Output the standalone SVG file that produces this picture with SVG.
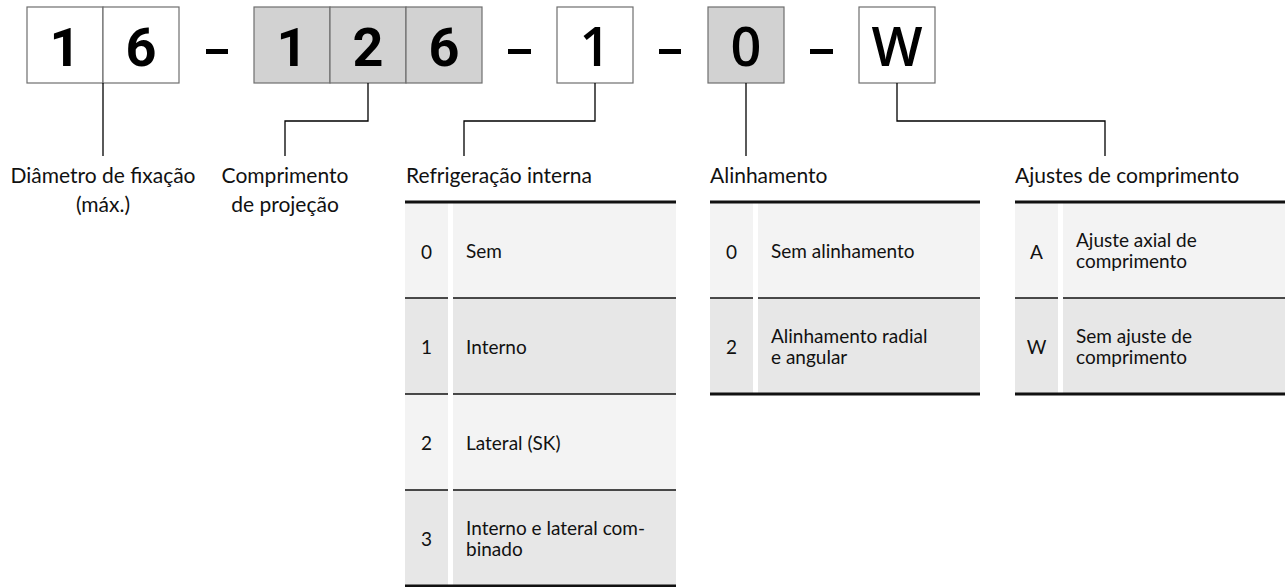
<svg xmlns="http://www.w3.org/2000/svg" width="1287" height="587" viewBox="0 0 1287 587">
<style>
.box{stroke:#6e6e6e;stroke-width:1.2}
.w{fill:#fff}
.g{fill:#d2d2d2}
.dash{fill:#000}
.digA{font-family:Roboto,"Liberation Sans",sans-serif;font-weight:700;font-size:54px;text-anchor:middle;fill:#000}
.digB{font-family:"Open Sans","Liberation Sans",sans-serif;font-weight:600;font-size:54px;text-anchor:middle;fill:#000}
.lbl{font-family:Lato,"Liberation Sans",sans-serif;font-size:21px;fill:#111}
.mid{text-anchor:middle}
.cell{font-family:Lato,"Liberation Sans",sans-serif;font-size:19px;fill:#111}
.num{font-family:Lato,"Liberation Sans",sans-serif;font-size:19px;fill:#111;text-anchor:middle}
.conn{fill:none;stroke:#000;stroke-width:1.3}
.r0{fill:#f3f3f3}
.r1{fill:#e7e7e7}
.thick{stroke:#111;stroke-width:3}
.sep{stroke:#111;stroke-width:1.3}
</style>

<g id="code">
  <g id="box-1"><rect class="box w" x="27" y="7" width="76" height="76"/><text class="digA" x="65" y="66">1</text></g>
  <g id="box-6"><rect class="box w" x="103" y="7" width="76" height="76"/><text class="digA" x="141" y="66">6</text></g>
  <rect class="dash" x="206" y="49" width="22" height="5"/>
  <g id="box-1b"><rect class="box g" x="254" y="7" width="76" height="76"/><text class="digA" x="292" y="66">1</text></g>
  <g id="box-2"><rect class="box g" x="330" y="7" width="76" height="76"/><text class="digA" x="368" y="66">2</text></g>
  <g id="box-6b"><rect class="box g" x="406" y="7" width="76" height="76"/><text class="digA" x="444" y="66">6</text></g>
  <rect class="dash" x="508" y="49" width="23" height="5"/>
  <g id="box-1c"><rect class="box w" x="557" y="7" width="76" height="76"/><text class="digB" x="595" y="66">1</text></g>
  <rect class="dash" x="659" y="49" width="22" height="5"/>
  <g id="box-0"><rect class="box g" x="708" y="7" width="76" height="76"/><text class="digB" x="746" y="66">0</text></g>
  <rect class="dash" x="810" y="49" width="23" height="5"/>
  <g id="box-W"><rect class="box w" x="859" y="7" width="76" height="76"/><text class="digB" x="897" y="66">W</text></g>
</g>

<g id="connectors">
  <path class="conn" d="M103 83V156"/>
  <path class="conn" d="M368 83V121H285V156"/>
  <path class="conn" d="M595 83V121H464V156"/>
  <path class="conn" d="M746 83V156"/>
  <path class="conn" d="M897 83V121H1105V156"/>
</g>

<g id="label-diametro">
  <text class="lbl mid" x="103" y="183">Diâmetro de fixação</text>
  <text class="lbl mid" x="103" y="212">(máx.)</text>
</g>
<g id="label-comprimento">
  <text class="lbl mid" x="285" y="183">Comprimento</text>
  <text class="lbl mid" x="285" y="212">de projeção</text>
</g>

<g id="table-refrigeracao">
  <text class="lbl" x="406" y="183">Refrigeração interna</text>
  <rect class="r0" x="405" y="203" width="43" height="95"/><rect class="r0" x="453" y="203" width="223" height="95"/>
  <rect class="r1" x="405" y="298" width="43" height="96"/><rect class="r1" x="453" y="298" width="223" height="96"/>
  <rect class="r0" x="405" y="394" width="43" height="96"/><rect class="r0" x="453" y="394" width="223" height="96"/>
  <rect class="r1" x="405" y="490" width="43" height="96"/><rect class="r1" x="453" y="490" width="223" height="96"/>
  <line class="thick" x1="405" y1="202" x2="676" y2="202"/>
  <line class="sep" x1="405" y1="298" x2="448" y2="298"/><line class="sep" x1="453" y1="298" x2="676" y2="298"/>
  <line class="sep" x1="405" y1="394" x2="448" y2="394"/><line class="sep" x1="453" y1="394" x2="676" y2="394"/>
  <line class="sep" x1="405" y1="490" x2="448" y2="490"/><line class="sep" x1="453" y1="490" x2="676" y2="490"/>
  <line class="thick" x1="405" y1="586" x2="676" y2="586"/>
  <text class="num" x="426.5" y="258.5">0</text><text class="cell" x="466" y="258">Sem</text>
  <text class="num" x="426.5" y="354">1</text><text class="cell" x="466" y="353.5">Interno</text>
  <text class="num" x="426.5" y="450">2</text><text class="cell" x="466" y="449.5">Lateral (SK)</text>
  <text class="num" x="426.5" y="546">3</text><text class="cell" x="466" y="534.5">Interno e lateral com-</text><text class="cell" x="466" y="555.5">binado</text>
</g>

<g id="table-alinhamento">
  <text class="lbl" x="710" y="183">Alinhamento</text>
  <rect class="r0" x="710" y="203" width="43" height="95"/><rect class="r0" x="758" y="203" width="222" height="95"/>
  <rect class="r1" x="710" y="298" width="43" height="96"/><rect class="r1" x="758" y="298" width="222" height="96"/>
  <line class="thick" x1="710" y1="202" x2="980" y2="202"/>
  <line class="sep" x1="710" y1="298" x2="753" y2="298"/><line class="sep" x1="758" y1="298" x2="980" y2="298"/>
  <line class="thick" x1="710" y1="394" x2="980" y2="394"/>
  <text class="num" x="731.5" y="258.5">0</text><text class="cell" x="771" y="258">Sem alinhamento</text>
  <text class="num" x="731.5" y="354">2</text><text class="cell" x="771" y="342.5">Alinhamento radial</text><text class="cell" x="771" y="363.5">e angular</text>
</g>

<g id="table-ajustes">
  <text class="lbl" x="1015" y="183">Ajustes de comprimento</text>
  <rect class="r0" x="1015" y="203" width="43" height="95"/><rect class="r0" x="1063" y="203" width="222" height="95"/>
  <rect class="r1" x="1015" y="298" width="43" height="96"/><rect class="r1" x="1063" y="298" width="222" height="96"/>
  <line class="thick" x1="1015" y1="202" x2="1285" y2="202"/>
  <line class="sep" x1="1015" y1="298" x2="1058" y2="298"/><line class="sep" x1="1063" y1="298" x2="1285" y2="298"/>
  <line class="thick" x1="1015" y1="394" x2="1285" y2="394"/>
  <text class="num" x="1036.5" y="258.5">A</text><text class="cell" x="1076" y="247">Ajuste axial de</text><text class="cell" x="1076" y="268">comprimento</text>
  <text class="num" x="1036.5" y="354">W</text><text class="cell" x="1076" y="342.5">Sem ajuste de</text><text class="cell" x="1076" y="363.5">comprimento</text>
</g>
</svg>
